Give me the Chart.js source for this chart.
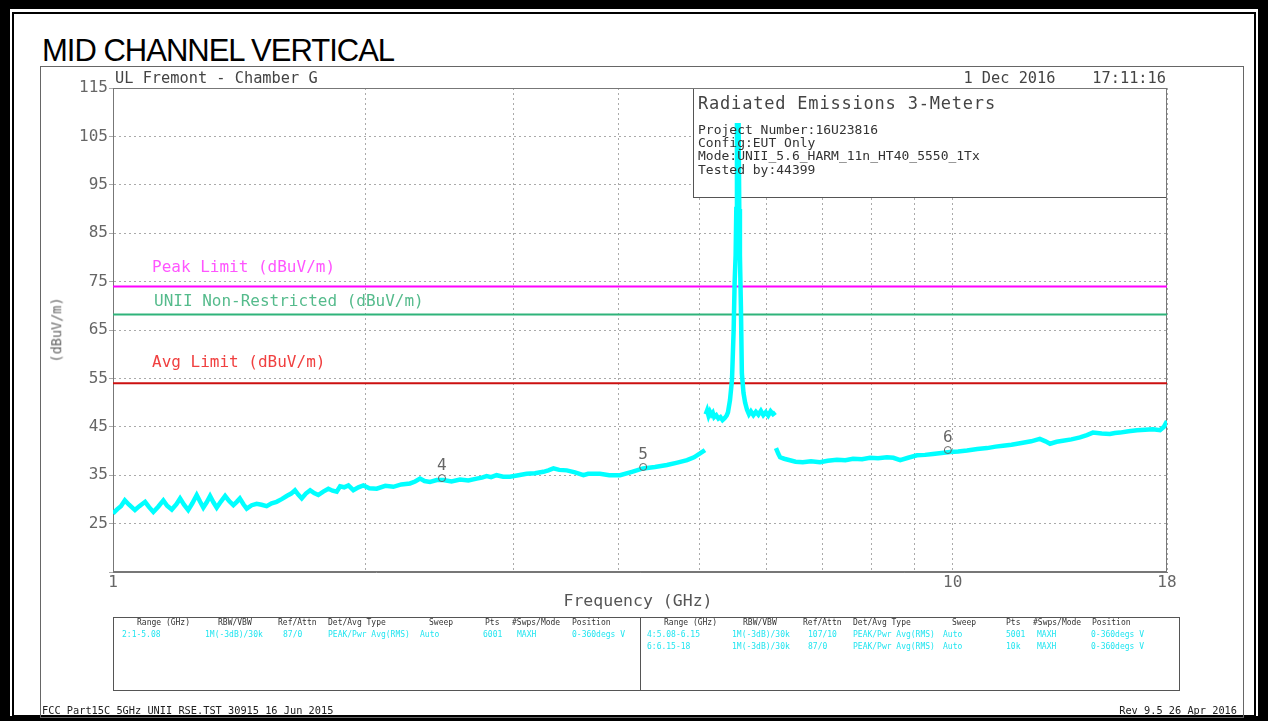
<!DOCTYPE html>
<html><head><meta charset="utf-8">
<script src="https://cdn.jsdelivr.net/npm/chart.js@4"></script>
<style>
html,body{margin:0;padding:0;background:#fff;width:1268px;height:721px;overflow:hidden;}
#wrap{position:relative;width:1268px;height:721px;}
#c{position:absolute;left:0;top:0;}
.t{position:absolute;white-space:pre;font-family:'DejaVu Sans Mono',monospace;line-height:1;color:#444;}
.box{position:absolute;box-sizing:border-box;}
</style></head>
<body><div id="wrap">
<div class="box" style="left:0;top:0;width:1268px;height:721px;border-style:solid;border-color:#000;border-width:9px 10px 5px 10px;"></div>
<div class="box" style="left:12px;top:12px;width:1244px;height:705px;border:2px solid #000;"></div>
<div class="box" style="left:40px;top:66px;width:1204px;height:652px;border:1px solid #666;"></div>
<div class="t" style="left:42px;top:35px;font-family:'Liberation Sans',Arial,sans-serif;font-size:31px;letter-spacing:-1px;color:#000;">MID CHANNEL VERTICAL</div>
<canvas id="c" width="1268" height="721"></canvas>
<div class="t" style="left:115px;top:71px;font-size:15.3px;color:#444;">UL Fremont - Chamber G</div>
<div class="t" style="right:102px;top:71px;font-size:15.3px;color:#444;">1 Dec 2016    17:11:16</div>
<div class="t" style="left:698px;top:95px;font-size:17px;letter-spacing:0.8px;color:#444;">Radiated Emissions 3-Meters</div>
<div class="t" style="left:698px;top:123px;font-size:13px;color:#333;">Project Number:16U23816</div>
<div class="t" style="left:698px;top:136px;font-size:13px;color:#333;">Config:EUT Only</div>
<div class="t" style="left:698px;top:149px;font-size:13px;color:#333;">Mode:UNII_5.6_HARM_11n_HT40_5550_1Tx</div>
<div class="t" style="left:698px;top:163px;font-size:13px;color:#333;">Tested by:44399</div>
<div class="t" style="left:152px;top:259px;font-size:16px;color:#ff55ff;">Peak Limit (dBuV/m)</div>
<div class="t" style="left:154px;top:293px;font-size:16px;color:#55bb8c;">UNII Non-Restricted (dBuV/m)</div>
<div class="t" style="left:152px;top:354px;font-size:16px;color:#f04040;">Avg Limit (dBuV/m)</div>
<div class="t" style="left:57px;top:330px;font-size:13.5px;color:#666;transform:translate(-50%,-50%) rotate(-90deg);">(dBuV/m)</div>
<div class="t" style="left:638px;top:593px;font-size:16.5px;color:#555;transform:translateX(-50%);">Frequency (GHz)</div>
<div class="box" style="left:113px;top:617px;width:1067px;height:74px;border:1px solid #555;"></div>
<div class="box" style="left:640px;top:617px;width:1px;height:74px;background:#555;"></div>
<div id="tbl"></div>
<div class="t" style="left:42px;top:705px;font-size:10.3px;color:#222;">FCC Part15C 5GHz UNII RSE.TST 30915 16 Jun 2015</div>
<div class="t" style="right:31px;top:705px;font-size:10.3px;color:#222;">Rev 9.5 26 Apr 2016</div>
</div>
<script>
// ---- trace data (GHz, dBuV/m) ----
const seg1Freq = [
1.000,1.012,1.022,1.033,1.045,1.062,1.075,1.092,1.104,1.117,
1.132,1.148,1.160,1.175,1.190,1.202,1.215,1.229,1.243,1.258,
1.270,1.281,1.293,1.305,1.317,1.329,1.345,1.360,1.376,1.391,
1.404,1.416,1.430,1.443,1.463,1.483,1.503,1.524,1.545,1.566,
1.590,1.610,1.630,1.647,1.662,1.678,1.697,1.717,1.736,1.756,
1.780,1.805,1.826,1.847,1.864,1.885,1.907,1.933,1.960,1.987,
2.020,2.061,2.110,2.157,2.205,2.258,2.290,2.321,2.350,2.385,
2.430,2.474,2.530,2.590,2.650,2.711,2.750,2.786,2.820,2.863,
2.915,2.970,3.040,3.109,3.180,3.255,3.300,3.346,3.400,3.470,
3.550,3.633,3.680,3.733,3.802,3.900,4.017,4.150,4.278,4.420,
4.568,4.700,4.827,4.920,5.002,5.070];
const seg1Level = [
27.1,28.0,28.6,29.8,28.9,27.8,28.6,29.5,28.4,27.4,
28.5,29.8,28.7,27.9,29.0,30.2,28.9,27.8,29.2,30.9,
29.5,28.3,29.4,30.7,29.4,28.3,29.6,30.7,29.6,28.8,
29.5,30.2,29.0,28.1,28.8,29.1,28.9,28.6,29.2,29.5,
30.1,30.7,31.2,31.9,31.0,30.2,31.2,31.9,31.3,30.9,
31.6,32.2,31.8,31.6,32.7,32.5,32.9,31.9,32.5,32.9,
32.3,32.2,32.8,32.6,33.1,33.3,33.7,34.3,33.8,33.6,
34.0,34.0,33.7,34.1,33.9,34.3,34.5,34.8,34.6,35.0,
34.7,34.7,35.0,35.3,35.4,35.7,36.0,36.4,36.1,36.0,
35.6,35.0,35.3,35.3,35.3,35.0,35.0,35.7,36.4,36.7,
37.1,37.6,38.1,38.7,39.5,40.2];
const seg2Freq = [
5.080,5.100,5.120,5.140,5.160,5.180,5.200,5.230,5.260,5.290,
5.320,5.350,5.380,5.400,5.430,5.460,5.485,5.500,5.515,5.525,
5.535,5.560,5.570,5.580,5.595,5.610,5.635,5.660,5.690,5.720,
5.750,5.790,5.830,5.870,5.910,5.950,5.990,6.030,6.070,6.110,
6.150];
const seg2Level = [
47.6,48.4,47.3,48.1,47.5,47.9,47.0,47.4,46.7,47.0,
46.4,46.8,47.3,48.0,50.5,54.7,65.0,75.0,80.5,90.0,
107.3,107.3,90.0,80.5,70.0,56.0,52.0,50.0,48.5,47.6,
48.2,47.4,48.1,47.5,48.3,47.4,48.0,47.3,48.2,47.6,
48.0];
const seg3Freq = [
6.16,6.20,6.23,6.30,6.40,6.50,6.63,6.78,6.95,7.10,
7.28,7.45,7.61,7.80,7.97,8.15,8.35,8.50,8.66,8.85,
9.07,9.27,9.47,9.70,9.93,10.15,10.40,10.70,10.99,11.25,
11.48,11.75,12.03,12.40,12.70,12.90,13.06,13.30,13.53,13.85,
14.18,14.45,14.69,15.05,15.39,15.60,15.82,16.20,16.58,16.95,
17.32,17.66,17.85,18.00];
const seg3Level = [
40.6,39.4,38.7,38.4,38.1,37.8,37.7,37.9,37.7,38.0,
38.2,38.1,38.4,38.3,38.6,38.5,38.7,38.6,38.1,38.6,
39.1,39.2,39.4,39.6,39.8,39.9,40.1,40.4,40.6,40.9,
41.1,41.3,41.6,42.0,42.5,42.0,41.5,41.9,42.1,42.4,
42.8,43.3,43.8,43.6,43.5,43.7,43.8,44.1,44.3,44.4,
44.5,44.3,45.0,46.2];

// ---- limits ----
const limitNames = ['Peak Limit (dBuV/m)','UNII Non-Restricted (dBuV/m)','Avg Limit (dBuV/m)'];
const limitValues = [74, 68.2, 54];
const limitColors = ['#ff00ff','#2fb37a','#cc1010'];

// ---- markers ----
const markerIds = ['4','5','6'];
const markerFreq = [2.465, 4.28, 9.87];
const markerLevel = [34.4, 36.7, 40.2];

// ---- ticks ----
const xGridTicks = [1,2,3,4,5,6,7,8,9,10,18];
const xLabelTicks = [1,10,18];
const yTicks = [15,25,35,45,55,65,75,85,95,105,115];
const yLabelTicks = [25,35,45,55,65,75,85,95,105,115];

// ---- settings table ----
const tblHeaders = ['Range (GHz)','RBW/VBW','Ref/Attn','Det/Avg Type','Sweep','Pts','#Swps/Mode','Position'];
const tblLeftX = [137,218,278,328,429,485,512,572];
const tblLeftDataX = [122,205,283,328,420,483,517,572];
const tblRightX = [664,743,803,853,952,1006,1033,1092];
const tblRightDataX = [647,732,808,853,943,1006,1037,1091];
const tblLeftRows = [['2:1-5.08','1M(-3dB)/30k','87/0','PEAK/Pwr Avg(RMS)','Auto','6001','MAXH','0-360degs V']];
const tblRightRows = [
  ['4:5.08-6.15','1M(-3dB)/30k','107/10','PEAK/Pwr Avg(RMS)','Auto','5001','MAXH','0-360degs V'],
  ['6:6.15-18','1M(-3dB)/30k','87/0','PEAK/Pwr Avg(RMS)','Auto','10k','MAXH','0-360degs V']
];

const wrap = document.getElementById('wrap');
function addText(txt,x,y,size,color){
  const d=document.createElement('div'); d.className='t'; d.textContent=txt;
  d.style.left=x+'px'; d.style.top=y+'px'; d.style.fontSize=size+'px'; d.style.color=color;
  wrap.appendChild(d); return d;
}
tblHeaders.forEach((h,i)=>{ addText(h,tblLeftX[i],619,8,'#333'); addText(h,tblRightX[i],619,8,'#333'); });
tblLeftRows.forEach((r,j)=>r.forEach((v,i)=>addText(v,tblLeftDataX[i],631+12*j,8,'#22e5f0')));
tblRightRows.forEach((r,j)=>r.forEach((v,i)=>addText(v,tblRightDataX[i],631+12*j,8,'#22e5f0')));

const toPts=(f,l)=>f.map((v,i)=>({x:v,y:l[i]}));
const traceStyle = {borderColor:'#00ffff',borderWidth:4.5,pointRadius:0,tension:0,fill:false,borderJoinStyle:'miter'};
const datasets = [
  Object.assign({label:'seg1',data:toPts(seg1Freq,seg1Level),order:1},traceStyle),
  Object.assign({label:'seg2',data:toPts(seg2Freq,seg2Level),order:1},traceStyle),
  Object.assign({label:'seg3',data:toPts(seg3Freq,seg3Level),order:1},traceStyle),
  {label:'markers',type:'scatter',data:toPts(markerFreq,markerLevel),order:0,
   pointStyle:'circle',pointRadius:3.5,borderColor:'#666',borderWidth:1,backgroundColor:'rgba(0,0,0,0)'}
];
limitValues.forEach((v,i)=>datasets.push({label:limitNames[i],data:[{x:1,y:v},{x:18,y:v}],
  borderColor:limitColors[i],borderWidth:2,pointRadius:0,order:2}));

const INFO = {l:693,t:88,r:1167,b:198};
const boxes = {
  id:'boxes',
  beforeDatasetsDraw(chart){
    const ctx=chart.ctx,a=chart.chartArea;
    ctx.save();
    ctx.fillStyle='#fff'; ctx.fillRect(INFO.l,INFO.t,INFO.r-INFO.l,INFO.b-INFO.t);
    ctx.strokeStyle='#555'; ctx.lineWidth=1;
    ctx.strokeRect(INFO.l+0.5,INFO.t+0.5,INFO.r-INFO.l-1,INFO.b-INFO.t-1);
    ctx.strokeStyle='#777';
    ctx.strokeRect(a.left+0.5,a.top+0.5,a.width-1,a.height-1);
    ctx.restore();
  }
};

const tickFont = {family:"'DejaVu Sans Mono', monospace", size:16};
const chart = new Chart(document.getElementById('c'),{
  type:'line',
  data:{datasets},
  options:{
    responsive:false, animation:false,
    layout:{padding:{left:53,top:88,right:101,bottom:109}},
    plugins:{legend:{display:false},tooltip:{enabled:false}},
    scales:{
      x:{type:'logarithmic',min:1,max:18,
         afterBuildTicks:s=>{s.ticks=xGridTicks.map(v=>({value:v}));},
         afterFit:s=>{s.height=40;},
         ticks:{autoSkip:false,maxRotation:0,minRotation:0,padding:1,color:'#666',font:tickFont,
           callback:v=>xLabelTicks.includes(v)?String(v):''},
         grid:{color:'#aaa',lineWidth:1,drawTicks:false},
         border:{display:true,color:'#777',dash:[2,3]}},
      y:{type:'linear',min:15,max:115,
         afterBuildTicks:s=>{s.ticks=yTicks.map(v=>({value:v}));},
         afterFit:s=>{s.width=60;},
         ticks:{padding:1,color:'#666',font:tickFont,
           callback:v=>yLabelTicks.includes(v)?String(v):''},
         grid:{color:'#aaa',lineWidth:1,tickLength:4},
         border:{display:true,color:'#777',dash:[2,3]}}
    }
  },
  plugins:[boxes]
});

const xs=chart.scales.x, ys=chart.scales.y;
markerIds.forEach((id,i)=>{
  addText(id, xs.getPixelForValue(markerFreq[i])-5, ys.getPixelForValue(markerLevel[i])-21, 16, '#666');
});
</script>
</body></html>
